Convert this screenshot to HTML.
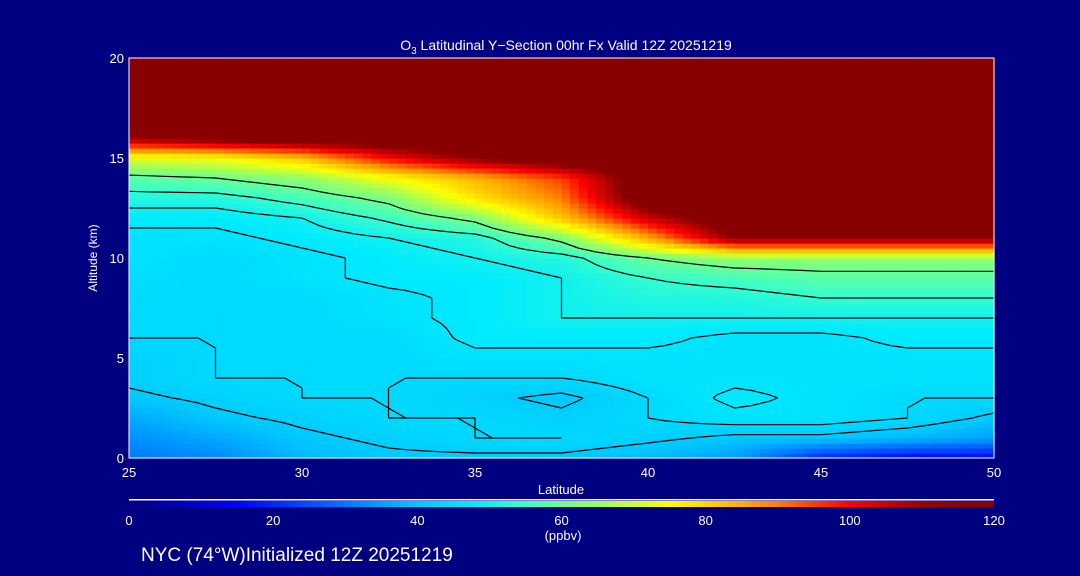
<!DOCTYPE html>
<html><head><meta charset="utf-8"><style>
body{margin:0;background:#000080;width:1080px;height:576px;overflow:hidden;font-family:"Liberation Sans",sans-serif;}
svg{display:block}
text{fill:#fff;font-family:"Liberation Sans",sans-serif;}
</style></head><body>
<svg id="chart" width="1080" height="576">
<g id="cells"></g>
<g id="contours"></g>
<g id="axes"></g>
<defs><linearGradient id="cb" x1="0" x2="1" y1="0" y2="0"></linearGradient></defs>
<rect x="129" y="499" width="865" height="1.5" fill="#fff"/>
<rect x="129" y="501" width="865" height="6" fill="url(#cb)"/>
<g id="cblabels"></g>
<text x="563" y="540" font-size="13" text-anchor="middle">(ppbv)</text>
<text x="566" y="50" font-size="14" text-anchor="middle">O<tspan font-size="10" dy="4">3</tspan><tspan dy="-4"> Latitudinal Y−Section 00hr  Fx Valid 12Z 20251219</tspan></text>
<text x="97" y="258" font-size="12" text-anchor="middle" transform="rotate(-90 97 258)">Altitude (km)</text>
<text x="561" y="494" font-size="13" text-anchor="middle">Latitude</text>
<text x="141" y="561" font-size="19">NYC (74°W)Initialized 12Z 20251219</text>
</svg>
<script>
const lats=[25,27.5,30,32.5,35,37.5,40,42.5,45,47.5,50];
const alts=[0,1,2,3,4,5,6,7,8,9,10,11,12,13,14,15,16,17,18,19,20];
const o3=[
[30,32,38,40,40,40,38,35,20,15,15],
[33,36,40,42,44,44,42,40,40,38,35],
[36,40,42,44,44,42,44,46,46,44,40],
[40,42,44,44,42,40,44,48,46,44,44],
[42,44,44,44,44,44,46,46,46,46,46],
[42,44,44,44,46,46,46,46,46,46,46],
[44,44,44,44,48,48,48,46,46,48,48],
[44,44,44,46,48,50,50,50,50,50,50],
[44,44,44,46,48,50,52,52,54,54,54],
[45,44,46,48,48,50,54,56,58,58,58],
[46,44,46,48,50,52,60,64,64,64,64],
[46,46,48,50,52,62,85,112,112,112,112],
[48,48,50,55,62,82,105,120,120,120,120],
[52,52,56,62,78,90,120,120,120,120,120],
[58,60,64,74,84,95,120,120,120,120,120],
[72,74,82,100,112,120,120,120,120,120,120],
[110,115,120,120,120,120,120,120,120,120,120],
[120,120,120,120,120,120,120,120,120,120,120],
[120,120,120,120,120,120,120,120,120,120,120],
[120,120,120,120,120,120,120,120,120,120,120],
[120,120,120,120,120,120,120,120,120,120,120]];
const xTicks=[25,30,35,40,45,50];
const yTicks=[0,5,10,15,20];
const cbTicks=[0,20,40,60,80,100,120];
const levels=[41,44,47,50,54,60];
const X0=129,X1=994,Y0=458,Y1=58;
const sx=v=>X0+(v-25)/25*(X1-X0);
const sy=v=>Y0-(v/20)*(Y0-Y1);
const stops=[[0,0,0,128],[15,0,0,255],[30,0,120,255],[40,0,200,255],[48,0,235,255],[55,60,255,200],[65,150,255,100],[75,255,255,0],[88,255,150,0],[100,255,0,0],[112,136,0,0],[120,136,0,0]];
function col(v){v=Math.max(0,Math.min(120,v));for(let i=1;i<stops.length;i++){if(v<=stops[i][0]){const a=stops[i-1],b=stops[i],t=(v-a[0])/(b[0]-a[0]);return `rgb(${Math.round(a[1]+t*(b[1]-a[1]))},${Math.round(a[2]+t*(b[2]-a[2]))},${Math.round(a[3]+t*(b[3]-a[3]))})`;}}return 'rgb(136,0,0)';}
function val(la,al){let i=Math.max(0,Math.min(lats.length-2,Math.floor((la-25)/2.5))),j=Math.max(0,Math.min(alts.length-2,Math.floor(al)));const tx=(la-lats[i])/2.5,ty=al-alts[j];
return o3[j][i]*(1-tx)*(1-ty)+o3[j][i+1]*tx*(1-ty)+o3[j+1][i]*(1-tx)*ty+o3[j+1][i+1]*tx*ty;}
const NS="http://www.w3.org/2000/svg";
const g=document.getElementById('cells');
const NX=100,NY=80;
for(let a=0;a<NY;a++){for(let b=0;b<NX;b++){
const la=25+(b+0.5)*25/NX,al=(a+0.5)*20/NY;
const r=document.createElementNS(NS,'rect');


r.setAttribute('x',sx(25+b*25/NX));r.setAttribute('y',sy((a+1)*20/NY));
r.setAttribute('width',(X1-X0)/NX+0.6);r.setAttribute('height',(Y0-Y1)/NY+0.6);
r.setAttribute('fill',col(val(la,al)));g.appendChild(r);}}
const cg=document.getElementById('contours');
const CX=50,CY=40;
const F=[];for(let a=0;a<=CY;a++){F.push([]);for(let b=0;b<=CX;b++)F[a].push(val(25+b*25/CX,a*20/CY));}
const px=b=>sx(25+b*25/CX),py=a=>sy(a*20/CY);
levels.forEach(L=>{let d='';
for(let a=0;a<CY;a++)for(let b=0;b<CX;b++){
const v=[F[a][b],F[a][b+1],F[a+1][b+1],F[a+1][b]];
const c=[[b,a],[b+1,a],[b+1,a+1],[b,a+1]];
const pts=[];
for(let k=0;k<4;k++){const v1=v[k],v2=v[(k+1)%4];if((v1<L)!==(v2<L)){const t=(L-v1)/(v2-v1);const p1=c[k],p2=c[(k+1)%4];pts.push([px(p1[0]+t*(p2[0]-p1[0])),py(p1[1]+t*(p2[1]-p1[1]))]);}}
for(let k=0;k+1<pts.length;k+=2)d+=`M${pts[k][0].toFixed(1)},${pts[k][1].toFixed(1)}L${pts[k+1][0].toFixed(1)},${pts[k+1][1].toFixed(1)}`;}
const p=document.createElementNS(NS,'path');


p.setAttribute('d',d);p.setAttribute('stroke','#000');p.setAttribute('stroke-width','1.2');p.setAttribute('fill','none');cg.appendChild(p);});
const ax=document.getElementById('axes');
function add(tag,attrs,txt){const e=document.createElementNS(NS,tag);for(const k in attrs)e.setAttribute(k,attrs[k]);if(txt!==undefined)e.textContent=txt;ax.appendChild(e);return e;}
const fr=add('rect',{x:X0,y:Y1,width:X1-X0,height:Y0-Y1,fill:'none',stroke:'#fff','stroke-width':1});


xTicks.forEach(t=>{const l=add('text',{x:sx(t),y:477,'font-size':13,'text-anchor':'middle'},t);

});
yTicks.forEach(t=>{const l=add('text',{x:124,y:sy(t)+5,'font-size':13,'text-anchor':'end'},t);

});
const grad=document.getElementById('cb');
for(let v=0;v<=120;v+=5){const s=document.createElementNS(NS,'stop');s.setAttribute('offset',v/120);s.setAttribute('stop-color',col(v));grad.appendChild(s);}
const cbl=document.getElementById('cblabels');
cbTicks.forEach(t=>{const e=document.createElementNS(NS,'text');


e.setAttribute('x',X0+t/120*(X1-X0));e.setAttribute('y',525);e.setAttribute('font-size',13);e.setAttribute('text-anchor','middle');e.textContent=t;cbl.appendChild(e);});
</script>
</body></html>
